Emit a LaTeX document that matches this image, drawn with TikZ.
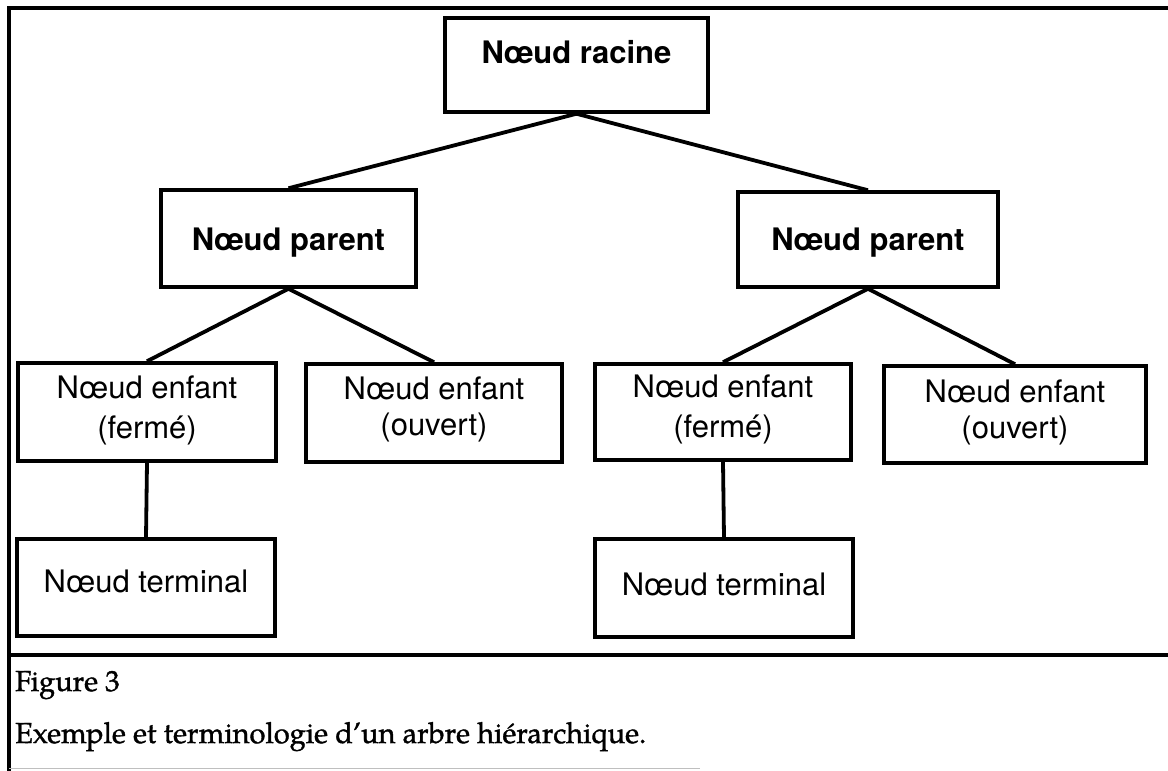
\documentclass[tikz,border=0pt]{standalone}
\usepackage{fontspec}
\setmainfont{TeX Gyre Heros}
\newfontfamily\capfont[FakeBold=1.2]{TeX Gyre Pagella}
\begin{document}
\begin{tikzpicture}[x=1pt,y=-1pt,
  box/.style={draw, rectangle, line width=3.5pt, inner sep=0pt, anchor=base,
    font=\fontsize{31}{36}\selectfont},
  boldbox/.style={box, font=\fontsize{31}{36}\selectfont\bfseries},
  link/.style={line width=3.8pt},
  frame/.style={line width=4.5pt},
  caption/.style={anchor=base west, inner sep=0pt, font=\capfont\fontsize{29}{32}\selectfont}]
\useasboundingbox (0,0) rectangle (1168,771);

% outer frame and caption rule
\draw[frame] (9,771) -- (9,8) -- (1168,8);
\draw[frame] (9,655) -- (1168,655);
\draw[gray!50, line width=1pt] (9,768) -- (700,768);

% tree nodes
\node[boldbox, minimum width=263pt, text height=45pt, text depth=49pt] (root) at (576.5,63) {Nœud racine};
\node[boldbox, minimum width=255pt, text height=60pt, text depth=37pt] (lp) at (288.5,250) {Nœud parent};
\node[boldbox, minimum width=260pt, text height=58pt, text depth=37pt] (rp) at (868,250) {Nœud parent};

\node[box, minimum width=258pt, text height=35pt, text depth=63pt] (lc1) at (147,398)
  {\begin{tabular}[t]{@{}c@{}}Nœud enfant\\[4pt](fermé)\end{tabular}};
\node[box, minimum width=256pt, text height=35pt, text depth=63pt] (lc2) at (434,399)
  {\begin{tabular}[t]{@{}c@{}}Nœud enfant\\(ouvert)\end{tabular}};
\node[box, minimum width=256pt, text height=33pt, text depth=63pt] (rc1) at (723,397)
  {\begin{tabular}[t]{@{}c@{}}Nœud enfant\\[4pt](fermé)\end{tabular}};
\node[box, minimum width=262pt, text height=36pt, text depth=61pt] (rc2) at (1015,402)
  {\begin{tabular}[t]{@{}c@{}}Nœud enfant\\(ouvert)\end{tabular}};

\node[box, minimum width=258pt, text height=53pt, text depth=44pt] (lt) at (146,592) {Nœud terminal};
\node[box, minimum width=258pt, text height=56pt, text depth=42pt] (rt) at (724,595) {Nœud terminal};

% connectors
\draw[link] (lp.north) -- (root.south) -- (rp.north);
\draw[link] (lc1.north) -- (lp.south) -- (lc2.north);
\draw[link] (rc1.north) -- (rp.south) -- (rc2.north);
\draw[link] (lc1.south) -- (lt.north);
\draw[link] (rc1.south) -- (rt.north);

% caption
\node[caption] (capnum) at (15,691) {Figure 3};
\node[caption] (captext) at (15,743) {Exemple et terminologie d’un arbre hiérarchique.};
\end{tikzpicture}
\end{document}
